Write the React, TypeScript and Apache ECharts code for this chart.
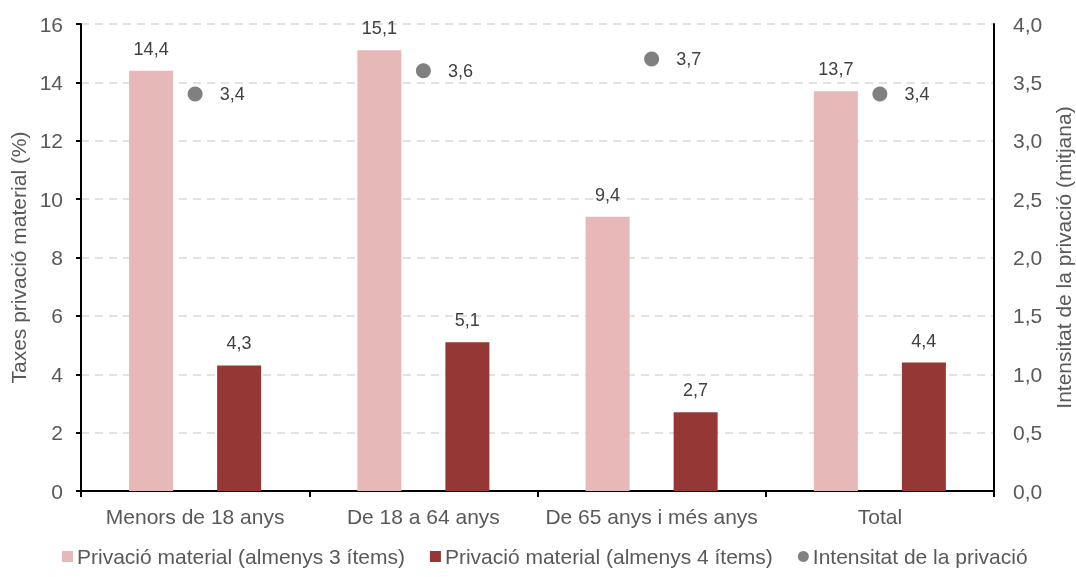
import React, { useEffect, useRef } from "react";
import * as echarts from "echarts";

const categories = ["Menors de 18 anys", "De 18 a 64 anys", "De 65 anys i més anys", "Total"];
const material3 = [14.4, 15.1, 9.4, 13.7];
const material4 = [4.3, 5.1, 2.7, 4.4];
const intensitat = [3.4, 3.6, 3.7, 3.4];
const leftTicks = { min: 0, max: 16, interval: 2 };
const rightTicks = { min: 0, max: 4, interval: 0.5 };

const FONT = "'Liberation Sans', Arial, sans-serif";
const fmt = (v: number, d: number) => v.toFixed(d).replace(".", ",");

export default function App() {
  const ref = useRef<HTMLDivElement>(null);
  useEffect(() => {
    document.body.style.margin = "0";
    document.body.style.overflow = "hidden";
    document.documentElement.style.overflow = "hidden";
    const chart = echarts.init(ref.current!, null, { renderer: "svg" });
    chart.setOption({
      animation: false,
      textStyle: { fontFamily: FONT },
      grid: { left: 81, right: 82, top: 24, bottom: 86, containLabel: false, outerBoundsMode: "none" },
      legend: {
        bottom: 5,
        left: 57,
        itemWidth: 11,
        itemHeight: 11,
        itemGap: 25,
        textStyle: { fontFamily: FONT, fontSize: 21, color: "#595959", padding: [0, 0, 0, -1] },
        data: [
          { name: "Privació material (almenys 3 ítems)", icon: "rect" },
          { name: "Privació material (almenys 4 ítems)", icon: "rect" },
          { name: "Intensitat de la privació", icon: "circle" },
        ],
      },
      xAxis: {
        type: "category",
        data: categories,
        axisLine: { lineStyle: { color: "#000", width: 2 } },
        axisTick: { show: true, length: 6, lineStyle: { color: "#000", width: 2 } },
        axisLabel: { interval: 0, fontFamily: FONT, fontSize: 21, color: "#595959", margin: 15 },
      },
      yAxis: [
        {
          type: "value",
          min: leftTicks.min,
          max: leftTicks.max,
          interval: leftTicks.interval,
          name: "Taxes privació material (%)",
          nameLocation: "middle",
          nameGap: 50,
          nameTextStyle: { fontFamily: FONT, fontSize: 21, color: "#595959" },
          axisLine: { show: true, lineStyle: { color: "#000", width: 2 } },
          axisTick: { show: true, length: 5, lineStyle: { color: "#000", width: 2 } },
          axisLabel: { fontFamily: FONT, fontSize: 21, color: "#595959", margin: 18 },
          splitLine: { show: true, lineStyle: { color: "#D9D9D9", type: [8, 6], width: 1.5 } },
        },
        {
          type: "value",
          min: rightTicks.min,
          max: rightTicks.max,
          interval: rightTicks.interval,
          position: "right",
          name: "Intensitat de la privació (mitjana)",
          nameLocation: "middle",
          nameGap: 59,
          nameTextStyle: { fontFamily: FONT, fontSize: 21, color: "#595959" },
          axisLine: { show: true, lineStyle: { color: "#000", width: 2 } },
          axisTick: { show: false },
          axisLabel: {
            fontFamily: FONT,
            fontSize: 21,
            color: "#595959",
            margin: 19,
            formatter: (v: number) => fmt(v, 1),
          },
          splitLine: { show: false },
        },
      ],
      series: [
        {
          name: "Privació material (almenys 3 ítems)",
          type: "bar",
          data: material3,
          barWidth: 44,
          barGap: "100%",
          itemStyle: { color: "#E6B8B7" },
          label: {
            show: true,
            position: "top",
            distance: 13,
            fontFamily: FONT,
            fontSize: 18,
            color: "#404040",
            formatter: (p: any) => fmt(p.value, 1),
          },
        },
        {
          name: "Privació material (almenys 4 ítems)",
          type: "bar",
          data: material4,
          barWidth: 44,
          barGap: "100%",
          itemStyle: { color: "#953735" },
          label: {
            show: true,
            position: "top",
            distance: 13,
            fontFamily: FONT,
            fontSize: 18,
            color: "#404040",
            formatter: (p: any) => fmt(p.value, 1),
          },
        },
        {
          name: "Intensitat de la privació",
          type: "scatter",
          yAxisIndex: 1,
          data: intensitat,
          symbol: "circle",
          symbolSize: 15,
          itemStyle: { color: "#808080", opacity: 1 },
          label: {
            show: true,
            position: "right",
            distance: 17,
            fontFamily: FONT,
            fontSize: 18,
            color: "#404040",
            formatter: (p: any) => fmt(p.value, 1),
          },
        },
      ],
    });
    return () => chart.dispose();
  }, []);
  return (
    <div
      ref={ref}
      style={{ position: "fixed", left: 0, top: 0, width: 1076, height: 577 }}
    />
  );
}
